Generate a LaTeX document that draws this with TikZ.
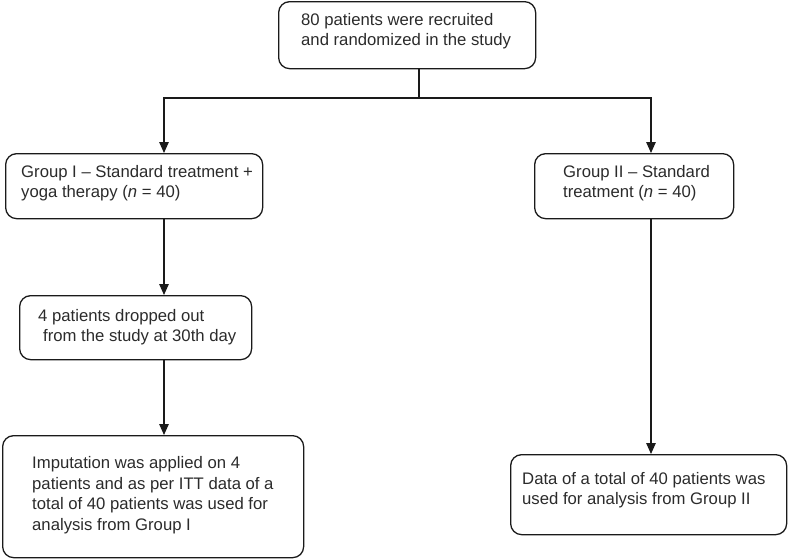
\documentclass[tikz,border=0pt]{standalone}
\usepackage{fontspec}
\setmainfont{Liberation Sans}
\usetikzlibrary{arrows.meta}
\definecolor{txt}{HTML}{2B2B2B}
\definecolor{edge}{HTML}{1A1A1A}
\begin{document}
\begin{tikzpicture}[x=1pt,y=1pt,
  box/.style={draw=edge, line width=1.3pt, rounded corners=11pt, anchor=north west, inner sep=0pt},
  lbl/.style={anchor=west, align=left, inner sep=0pt, text=txt, font=\fontsize{16.7}{20.5}\selectfont},
  arr/.style={draw=edge, line width=1.3pt, -{Triangle[length=11pt,width=9.5pt]}},
  ln/.style={draw=edge, line width=1.3pt}]
\useasboundingbox (0,0) rectangle (788,-558);
\coordinate (colL) at (164,0);
\coordinate (colR) at (651,0);
\coordinate (colT) at (419,0);
\node[box, minimum width=257pt, minimum height=67pt] (top) at (278,-1) {};
\node[lbl] (toptxt) at (301,-31) {80 patients were recruited\\and randomized in the study};
\node[box, minimum width=257pt, minimum height=65pt] (g1) at (5,-153) {};
\node[lbl] (g1txt) at (21,-183) {Group I -- Standard treatment +\\yoga therapy (\textit{n} = 40)};
\node[box, minimum width=199pt, minimum height=65pt] (g2) at (534,-153) {};
\node[lbl] (g2txt) at (563,-183) {Group II -- Standard\\treatment (\textit{n} = 40)};
\node[box, minimum width=232pt, minimum height=64pt] (drop) at (19,-295) {};
\node[lbl] (droptxt) at (38,-327) {4 patients dropped out\\\hspace{5pt}from the study at 30th day};
\node[box, minimum width=301pt, minimum height=122pt] (imp) at (2,-435) {};
\node[lbl] (imptxt) at (32,-495) {Imputation was applied on 4\\patients and as per ITT data of a\\total of 40 patients was used for\\analysis from Group I};
\node[box, minimum width=276pt, minimum height=80pt] (res2) at (510,-454) {};
\node[lbl] (res2txt) at (522,-490) {Data of a total of 40 patients was\\used for analysis from Group II};
\coordinate (j) at (0,-98 -| colT);
\draw[ln] (top.south -| colT) -- (j);
\draw[arr] (j) -| (g1.north -| colL);
\draw[arr] (j) -| (g2.north -| colR);
\draw[arr] (g1.south -| colL) -- (drop.north -| colL);
\draw[arr] (drop.south -| colL) -- (imp.north -| colL);
\draw[arr] (g2.south -| colR) -- (res2.north -| colR);
\end{tikzpicture}
\end{document}
